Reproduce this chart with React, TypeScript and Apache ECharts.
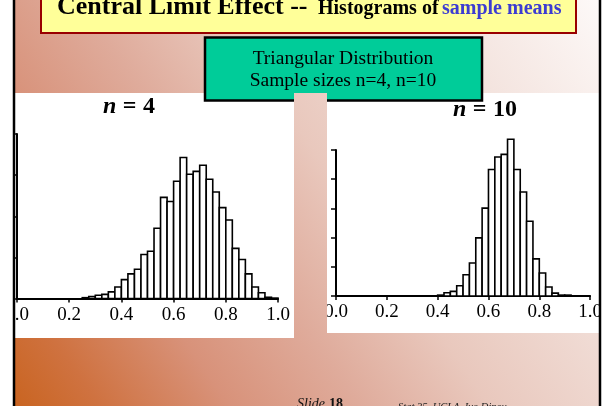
import React, { useEffect, useRef } from "react";
import * as echarts from "echarts";

// ---- data ----
const binWidth = 0.025;
const xTickLabels = ["0.0", "0.2", "0.4", "0.6", "0.8", "1.0"];

const n4BinStarts = [
  0.25, 0.275, 0.3, 0.325, 0.35, 0.375, 0.4, 0.425, 0.45, 0.475,
  0.5, 0.525, 0.55, 0.575, 0.6, 0.625, 0.65, 0.675, 0.7, 0.725,
  0.75, 0.775, 0.8, 0.825, 0.85, 0.875, 0.9, 0.925, 0.95, 0.975,
];
const n4Counts = [
  2, 5, 8, 10, 16, 28, 46, 60, 71, 107,
  115, 171, 246, 236, 285, 343, 302, 309, 324, 290,
  259, 221, 191, 122, 95, 60, 28, 14, 3, 1,
];

const n10BinStarts = [
  0.4, 0.425, 0.45, 0.475, 0.5, 0.525, 0.55, 0.575, 0.6, 0.625,
  0.65, 0.675, 0.7, 0.725, 0.75, 0.775, 0.8, 0.825, 0.85, 0.875, 0.9,
];
const n10Counts = [
  3, 11, 16, 35, 73, 113, 199, 301, 433, 476,
  485, 537, 433, 356, 256, 127, 79, 31, 10, 3, 3,
];

const SERIF = "'Liberation Serif', 'Times New Roman', serif";

const bgGradient = {
  type: "linear",
  x: 13,
  y: 406,
  x2: 600,
  y2: 0,
  global: true,
  colorStops: [
    { offset: 0, color: "#c96420" },
    { offset: 0.1, color: "#cf7240" },
    { offset: 0.25, color: "#d8927a" },
    { offset: 0.4, color: "#dfab9b" },
    { offset: 0.55, color: "#e9c8bd" },
    { offset: 0.72, color: "#f0dbd4" },
    { offset: 1, color: "#fdf9f8" },
  ],
};

const renderBars = (params: any, api: any) => {
  const start = api.value(0);
  const end = api.value(1);
  const count = api.value(2);
  const p0 = api.coord([start, 0]);
  const p1 = api.coord([end, count]);
  return {
    type: "rect",
    shape: { x: p0[0], y: p1[1], width: p1[0] - p0[0], height: p0[1] - p1[1] },
    style: { fill: "#ffffff", stroke: "#000000", lineWidth: 1.6 },
  };
};

const xAxisBase = (gridIndex: number) => ({
  type: "value",
  gridIndex,
  min: 0,
  max: 1,
  interval: 0.2,
  axisLine: { show: true, onZero: false, lineStyle: { color: "#000", width: 2 } },
  axisTick: { show: true, inside: false, length: 4, lineStyle: { color: "#000", width: 1.5 } },
  axisLabel: {
    show: true,
    color: "#000",
    fontFamily: SERIF,
    fontSize: 19,
    margin: 5,
    formatter: (v: number) => xTickLabels[Math.round(v / 0.2)] ?? v.toFixed(1),
  },
  splitLine: { show: false },
});

const yAxisBase = (gridIndex: number, max: number) => ({
  type: "value",
  gridIndex,
  min: 0,
  max,
  interval: 100,
  axisLine: { show: true, lineStyle: { color: "#000", width: 2 } },
  axisTick: { show: true, inside: false, length: 5, lineStyle: { color: "#000", width: 1.5 } },
  axisLabel: { show: false },
  splitLine: { show: false },
});

const midY = (baseline: number, size: number) => baseline - 0.3375 * size;

const titleRich = {
  i: { fontFamily: SERIF, fontSize: 24, fontStyle: "italic", fontWeight: "bold", fill: "#000" },
  b: { fontFamily: SERIF, fontSize: 24, fontWeight: "bold", fill: "#000" },
  s: { fontFamily: SERIF, fontSize: 24, width: 6.5 },
};

export default function App() {
  const ref = useRef<HTMLDivElement>(null);

  useEffect(() => {
    if (!ref.current) return;
    const chart = echarts.init(ref.current, undefined, { renderer: "svg" });

    const option: any = {
      animation: false,
      grid: [
        { left: 17, top: 134, width: 261, height: 164.5 },
        { left: 336, top: 150, width: 255, height: 146 },
      ],
      xAxis: [xAxisBase(0), xAxisBase(1)],
      yAxis: [yAxisBase(0, 400), yAxisBase(1, 500)],
      series: [
        {
          type: "custom",
          xAxisIndex: 0,
          yAxisIndex: 0,
          renderItem: renderBars,
          encode: { x: [0, 1], y: 2 },
          data: n4BinStarts.map((s, i) => [s, s + binWidth, n4Counts[i]]),
          z: 3,
        },
        {
          type: "custom",
          xAxisIndex: 1,
          yAxisIndex: 1,
          renderItem: renderBars,
          encode: { x: [0, 1], y: 2 },
          data: n10BinStarts.map((s, i) => [s, s + binWidth, n10Counts[i]]),
          z: 3,
        },
      ],
      graphic: [
        // background
        { type: "rect", z: -20, silent: true, shape: { x: 0, y: 0, width: 605, height: 406 }, style: { fill: bgGradient } },
        // white panels
        { type: "rect", z: -10, shape: { x: 14, y: 93, width: 280, height: 245 }, style: { fill: "#ffffff" } },
        { type: "rect", z: -10, shape: { x: 327, y: 93, width: 273, height: 240 }, style: { fill: "#ffffff" } },
        // title box
        {
          type: "rect",
          z: -10,
          shape: { x: 41, y: -10, width: 535, height: 43 },
          style: { fill: "#ffff99", stroke: "#990000", lineWidth: 2 },
        },
        {
          type: "text",
          z: -9,
          x: 57,
          y: midY(14, 26),
          style: {
            text: "Central Limit Effect --",
            fill: "#000",
            fontFamily: SERIF,
            fontSize: 26,
            fontWeight: "bold",
            textAlign: "left",
            textVerticalAlign: "middle",
          },
        },
        {
          type: "text",
          z: -9,
          x: 318,
          y: midY(14, 20),
          style: {
            text: "Histograms of",
            fill: "#000",
            fontFamily: SERIF,
            fontSize: 20,
            fontWeight: "bold",
            textAlign: "left",
            textVerticalAlign: "middle",
          },
        },
        {
          type: "text",
          z: -9,
          x: 442,
          y: midY(14, 20),
          style: {
            text: "sample means",
            fill: "#3c3cd2",
            fontFamily: SERIF,
            fontSize: 20,
            fontWeight: "bold",
            textAlign: "left",
            textVerticalAlign: "middle",
          },
        },
        // green box
        {
          type: "rect",
          z: -10,
          shape: { x: 205, y: 37.5, width: 277, height: 63 },
          style: { fill: "#00cc99", stroke: "#000", lineWidth: 2.5 },
        },
        {
          type: "text",
          z: -9,
          x: 343,
          y: midY(64, 19.5),
          style: {
            text: "Triangular Distribution",
            fill: "#000",
            fontFamily: SERIF,
            fontSize: 19.5,
            textAlign: "center",
            textVerticalAlign: "middle",
          },
        },
        {
          type: "text",
          z: -9,
          x: 343,
          y: midY(86, 19.5),
          style: {
            text: "Sample sizes n=4, n=10",
            fill: "#000",
            fontFamily: SERIF,
            fontSize: 19.5,
            textAlign: "center",
            textVerticalAlign: "middle",
          },
        },
        // panel titles
        {
          type: "text",
          z: 5,
          x: 129,
          y: midY(113, 24),
          style: {
            text: "{i|n}{s| }{b|=}{s| }{b|4}",
            textAlign: "center",
            textVerticalAlign: "middle",
            rich: titleRich,
          },
        },
        {
          type: "text",
          z: 5,
          x: 485,
          y: midY(116, 24),
          style: {
            text: "{i|n}{s| }{b|=}{s| }{b|10}",
            textAlign: "center",
            textVerticalAlign: "middle",
            rich: titleRich,
          },
        },
        // footer
        {
          type: "text",
          z: 5,
          x: 297,
          y: midY(408, 14),
          style: { text: "Slide", fill: "#111", fontFamily: SERIF, fontSize: 14, fontStyle: "italic", textAlign: "left", textVerticalAlign: "middle" },
        },
        {
          type: "text",
          z: 5,
          x: 329,
          y: midY(408, 14),
          style: { text: "18", fill: "#111", fontFamily: SERIF, fontSize: 14, fontWeight: "bold", textAlign: "left", textVerticalAlign: "middle" },
        },
        {
          type: "text",
          z: 5,
          x: 398,
          y: midY(410, 10.5),
          style: { text: "Stat 35, UCLA, Ivo Dinov", fill: "#222", fontFamily: SERIF, fontSize: 10.5, fontStyle: "italic", textAlign: "left", textVerticalAlign: "middle" },
        },
        // overlays: gap between panels, outside-of-slide margins, frame lines
        { type: "rect", z: 50, silent: true, shape: { x: 294, y: 93, width: 33, height: 250 }, style: { fill: bgGradient } },
        { type: "rect", z: 50, silent: true, shape: { x: 0, y: 0, width: 13, height: 406 }, style: { fill: "#ffffff" } },
        { type: "rect", z: 50, silent: true, shape: { x: 601, y: 0, width: 4, height: 406 }, style: { fill: "#ffffff" } },
        { type: "line", z: 51, silent: true, shape: { x1: 14, y1: 0, x2: 14, y2: 406 }, style: { stroke: "#000", lineWidth: 2.5 } },
        { type: "line", z: 51, silent: true, shape: { x1: 600, y1: 0, x2: 600, y2: 406 }, style: { stroke: "#000", lineWidth: 2.5 } },
      ],
    };

    chart.setOption(option);
    return () => chart.dispose();
  }, []);

  return (
    <div
      ref={ref}
      style={{ position: "fixed", left: 0, top: 0, width: 605, height: 406 }}
    />
  );
}
